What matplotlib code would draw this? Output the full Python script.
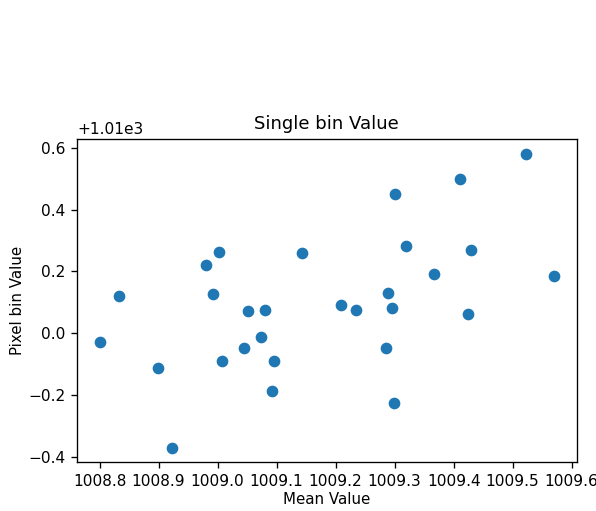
import numpy as np
import matplotlib
matplotlib.use("Agg")
import matplotlib.pyplot as plt

# mean value vs. single pixel bin value
mean_value = [1008.800, 1008.833, 1008.899, 1008.922, 1008.9915, 1009.007,
              1009.045, 1009.052, 1009.073, 1009.081, 1009.095, 1009.093,
              1008.980, 1009.002, 1009.143, 1009.523, 1009.410, 1009.300,
              1009.319, 1009.430, 1009.367, 1009.570, 1009.289, 1009.209,
              1009.234, 1009.295, 1009.425, 1009.285, 1009.299]
bin_value = [1009.971, 1010.119, 1009.889, 1009.630, 1010.128, 1009.909,
             1009.952, 1010.071, 1009.989, 1010.076, 1009.909, 1009.813,
             1010.220, 1010.263, 1010.259, 1010.581, 1010.499, 1010.451,
             1010.283, 1010.269, 1010.192, 1010.184, 1010.130, 1010.091,
             1010.076, 1010.082, 1010.062, 1009.951, 1009.774]

dpi = 120
plt.rcParams['xtick.labelsize'] = 9.2
plt.rcParams['ytick.labelsize'] = 9.2
fig = plt.figure(figsize=(596 / dpi, 511 / dpi), dpi=dpi)
ax = fig.add_axes([0.129, 0.0953, 0.8386, 0.6327])

ax.scatter(mean_value, bin_value)
ax.set_title("Single bin Value", fontsize=10.8)
ax.set_xlabel("Mean Value", fontsize=9, labelpad=2)
ax.set_ylabel("Pixel bin Value", fontsize=9, labelpad=2)
ax.yaxis.get_offset_text().set_fontsize(9.2)

fig.savefig("out.png", dpi=dpi)
